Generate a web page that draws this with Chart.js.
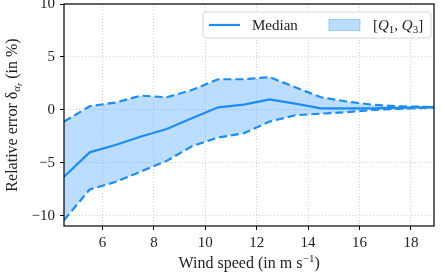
<!DOCTYPE html>
<html>
<head>
<meta charset="utf-8">
<script src="https://cdn.jsdelivr.net/npm/chart.js@4.4.0/dist/chart.umd.min.js"></script>
<style>
  html, body { margin: 0; padding: 0; background: #fff; }
  #wrap { width: 442px; height: 274px; }
</style>
</head>
<body>
<div id="wrap"><canvas id="myChart" width="442" height="274"></canvas></div>
<script>
// wind speed bins (m/s)
const windSpeed = [4.5, 5.5, 6.5, 7.5, 8.5, 9.5, 10.5, 11.5, 12.5, 13.5, 14.5, 15.5, 16.5, 17.5, 18.5, 18.9];
// relative error (in %)
const median = [-6.3, -4.0, -3.3, -2.5, -1.8, -0.75, 0.25, 0.5, 1.0, 0.6, 0.15, 0.15, 0.15, 0.2, 0.25, 0.25];
const q1 = [-10.4, -7.5, -6.8, -5.8, -4.8, -3.4, -2.6, -2.2, -1.1, -0.5, -0.35, -0.2, 0.0, 0.1, 0.2, 0.25];
const q3 = [-1.1, 0.35, 0.7, 1.35, 1.2, 1.9, 2.9, 2.9, 3.1, 2.15, 1.2, 0.8, 0.5, 0.35, 0.3, 0.25];

const xTicks = [6, 8, 10, 12, 14, 16, 18];
const yTicks = [-10, -5, 0, 5, 10];

const blue = 'rgb(30,140,240)';
const fillBlue = 'rgba(30,144,255,0.3)';
const serif = "'Liberation Serif', 'Times New Roman', serif";
const fs = 15;

Chart.defaults.font.family = serif;
Chart.defaults.font.size = fs;
Chart.defaults.color = '#222';

const pts = (ys) => windSpeed.map((x, i) => ({ x: x, y: ys[i] }));

// frame, axis titles and legend (matplotlib look)
const extras = {
    id: 'extras',
    afterDraw(chart) {
        const ctx = chart.ctx;
        const a = chart.chartArea;
        ctx.save();
        ctx.strokeStyle = '#000';
        ctx.lineWidth = 1.2;
        ctx.strokeRect(a.left, a.top, a.right - a.left, a.bottom - a.top);

        const big = fs + 'px ' + serif;
        const ttl = '16px ' + serif;

        // x title
        ctx.fillStyle = '#222';
        ctx.textBaseline = 'alphabetic';
        ctx.textAlign = 'left';
        const t1 = 'Wind speed (in m s';
        const sup = '\u22121';
        ctx.font = '11px ' + serif;
        const wSup = ctx.measureText(sup).width;
        ctx.font = ttl;
        const w1 = ctx.measureText(t1).width;
        const w2 = ctx.measureText(')').width;
        const x0 = (a.left + a.right) / 2 - (w1 + wSup + w2) / 2;
        const yb = 268;
        ctx.fillText(t1, x0, yb);
        ctx.font = '11px ' + serif;
        ctx.fillText(sup, x0 + w1 + 0.5, yb - 6);
        ctx.font = ttl;
        ctx.fillText(')', x0 + w1 + wSup + 0.5, yb);

        // y title (rotated)
        ctx.save();
        ctx.translate(17, (a.top + a.bottom) / 2);
        ctx.rotate(-Math.PI / 2);
        const p1 = 'Relative error \u03b4';
        const p4 = ' (in %)';
        ctx.font = ttl;
        const wp1 = ctx.measureText(p1).width;
        const wp4 = ctx.measureText(p4).width;
        ctx.font = 'italic 11px ' + serif;
        const wa = ctx.measureText('\u03b1').width;
        ctx.font = 'italic 8px ' + serif;
        const wr = ctx.measureText('r').width;
        let cx = -(wp1 + wa + wr + wp4) / 2;
        ctx.font = ttl;
        ctx.fillText(p1, cx, 0);
        cx += wp1;
        ctx.font = 'italic 11px ' + serif;
        ctx.fillText('\u03b1', cx, 3);
        cx += wa;
        ctx.font = 'italic 8px ' + serif;
        ctx.fillText('r', cx, 5);
        cx += wr;
        ctx.font = ttl;
        ctx.fillText(p4, cx, 0);
        ctx.restore();

        // legend box
        const bx = 203, by = 12, bw = 228, bh = 26;
        ctx.beginPath();
        ctx.roundRect(bx, by, bw, bh, 3);
        ctx.fillStyle = 'rgba(255,255,255,0.85)';
        ctx.fill();
        ctx.strokeStyle = '#d6d6d6';
        ctx.lineWidth = 1;
        ctx.stroke();

        ctx.strokeStyle = blue;
        ctx.lineWidth = 2.2;
        ctx.beginPath();
        ctx.moveTo(209, 25);
        ctx.lineTo(240, 25);
        ctx.stroke();
        ctx.fillStyle = '#222';
        ctx.font = big;
        ctx.fillText('Median', 252, 30);

        ctx.fillStyle = fillBlue;
        ctx.fillRect(329, 19.5, 31, 11);
        ctx.strokeStyle = 'rgba(30,144,255,0.45)';
        ctx.lineWidth = 0.8;
        ctx.strokeRect(329, 19.5, 31, 11);

        // [Q1, Q3]
        ctx.fillStyle = '#222';
        let lx = 373;
        const seg = (txt, font, dy) => {
            ctx.font = font;
            ctx.fillText(txt, lx, 30 + dy);
            lx += ctx.measureText(txt).width;
        };
        seg('[', big, 0);
        seg('Q', 'italic ' + big, 0);
        seg('1', '11px ' + serif, 3);
        seg(', ', big, 0);
        seg('Q', 'italic ' + big, 0);
        seg('3', '11px ' + serif, 3);
        seg(']', big, 0);
        ctx.restore();
    }
};

const ctx = document.getElementById('myChart');

const dataset = {
    datasets: [
        {
            label: 'Q1',
            data: pts(q1),
            borderColor: blue,
            borderWidth: 2.2,
            borderDash: [8, 4],
            pointRadius: 0,
            fill: false
        },
        {
            label: '[Q1, Q3]',
            data: pts(q3),
            borderColor: blue,
            borderWidth: 2.2,
            borderDash: [8, 4],
            pointRadius: 0,
            backgroundColor: fillBlue,
            fill: '-1'
        },
        {
            label: 'Median',
            data: pts(median),
            borderColor: blue,
            borderWidth: 2.2,
            pointRadius: 0,
            fill: false
        }
    ]
};

const gridStyle = {
    color: 'rgba(0,0,0,0.22)',
    lineWidth: 0.8,
    tickColor: '#000',
    tickLength: 4,
    tickWidth: 1,
    tickBorderDash: [],
    drawTicks: true
};

const config = {
    type: 'line',
    data: dataset,
    plugins: [extras],
    options: {
        responsive: false,
        animation: false,
        layout: { padding: { top: 4, right: 8, left: 0, bottom: 0 } },
        plugins: {
            legend: { display: false },
            tooltip: { enabled: false }
        },
        scales: {
            x: {
                type: 'linear',
                min: 4.5,
                max: 18.9,
                afterBuildTicks: (s) => { s.ticks = xTicks.map(v => ({ value: v })); },
                afterFit: (s) => { s.height = 48; s.paddingLeft = 0; s.paddingRight = 0; },
                grid: Object.assign({}, gridStyle),
                border: { display: false, dash: [1, 2] },
                ticks: { padding: 4, maxRotation: 0 }
            },
            y: {
                type: 'linear',
                min: -10.95,
                max: 10,
                afterBuildTicks: (s) => { s.ticks = yTicks.map(v => ({ value: v })); },
                afterFit: (s) => { s.width = 64; s.paddingTop = 0; s.paddingBottom = 0; },
                grid: Object.assign({}, gridStyle),
                border: { display: false, dash: [1, 2] },
                ticks: {
                    padding: 5,
                    callback: (v) => String(v).replace('-', '\u2212')
                }
            }
        }
    }
};

const chart = new Chart(ctx, config);
</script>
</body>
</html>
